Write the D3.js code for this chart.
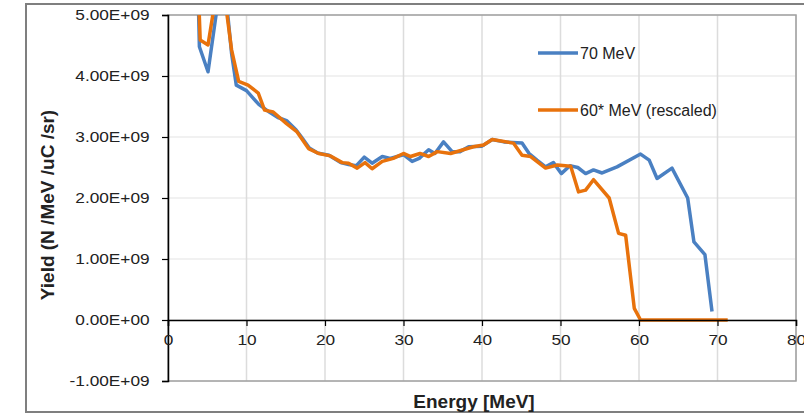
<!DOCTYPE html>
<html>
<head>
<meta charset="utf-8">
<script src="https://cdn.jsdelivr.net/npm/d3@7"></script>
<style>
  body { margin: 0; background: #fff; }
  text { font-family: "Liberation Sans", Arial, sans-serif; fill: #222; }
</style>
</head>
<body>
<div id="vis_container"></div>
<script>
// 70 MeV run, energy [MeV] and yield [1e9 N /MeV /uC /sr]
var energy70 = [3.85, 4.0, 5.1, 7.0, 8.1, 8.7, 10.0, 11.6, 13.0, 14.0, 15.1, 16.3, 17.0, 18.0, 19.0, 20.5,
  22.0, 23.0, 24.0, 25.0, 26.0, 27.3, 28.3, 30.0, 31.1, 32.0, 33.2, 34.0, 35.1, 36.2, 37.2, 38.3,
  40.0, 41.3, 42.8, 45.1, 46.0, 47.0, 48.1, 49.1, 50.1, 51.2, 52.2, 53.2, 54.2, 55.3, 57.2, 60.2,
  61.3, 62.3, 64.2, 66.2, 67.0, 68.4, 69.3];
var yield70 = [5.3, 4.48, 4.07, 5.8, 4.37, 3.85, 3.76, 3.53, 3.40, 3.32, 3.27, 3.12, 3.00, 2.82, 2.74, 2.70,
  2.58, 2.55, 2.53, 2.67, 2.57, 2.68, 2.65, 2.71, 2.60, 2.65, 2.79, 2.73, 2.92, 2.76, 2.76, 2.84,
  2.85, 2.96, 2.92, 2.90, 2.73, 2.62, 2.51, 2.58, 2.40, 2.53, 2.50, 2.40, 2.46, 2.41, 2.51, 2.72,
  2.62, 2.32, 2.49, 2.00, 1.28, 1.07, 0.14];

// 60* MeV run (rescaled)
var energy60 = [3.9, 4.1, 5.1, 6.7, 8.1, 9.0, 10.2, 11.5, 12.3, 13.4, 15.1, 16.4, 17.9, 19.2, 20.7,
  22.2, 23.0, 24.1, 25.1, 26.0, 27.3, 28.7, 30.0, 30.9, 32.1, 33.2, 34.3, 36.0, 38.9, 40.2, 41.3,
  44.0, 45.1, 46.2, 48.1, 49.6, 51.3, 52.3, 53.2, 54.2, 56.2, 57.4, 58.3, 59.4, 60.2, 71.3];
var yield60 = [5.3, 4.59, 4.51, 5.8, 4.43, 3.91, 3.85, 3.72, 3.44, 3.41, 3.22, 3.09, 2.81, 2.73, 2.69,
  2.58, 2.57, 2.49, 2.58, 2.48, 2.60, 2.65, 2.73, 2.68, 2.73, 2.68, 2.76, 2.73, 2.84, 2.87, 2.96,
  2.90, 2.70, 2.68, 2.49, 2.54, 2.52, 2.10, 2.13, 2.30, 2.00, 1.42, 1.39, 0.19, 0.00, 0.00];

var seriesNames = ["70 MeV", "60* MeV (rescaled)"];
var seriesColors = ["#4a80c2", "#e8720c"];
var xTicks = [0, 10, 20, 30, 40, 50, 60, 70, 80];
var yTicks = [-1, 0, 1, 2, 3, 4, 5];

var width = 804;
var height = 416;
var plotLeft = 168, plotRight = 796, plotTop = 15, plotBottom = 381;

var svg = d3.select("#vis_container")
    .append("svg")
    .attr("width", width)
    .attr("height", height);

// outer chart frame
svg.append("rect")
    .attr("x", 26).attr("y", 4)
    .attr("width", 800).attr("height", 408)
    .attr("fill", "none")
    .attr("stroke", "#7f7f7f")
    .attr("stroke-width", 2);

var x = d3.scaleLinear().domain([0, 80]).range([plotLeft, plotRight]);
var y = d3.scaleLinear().domain([-1, 5]).range([plotBottom, plotTop]);

// gridlines
svg.append("g").selectAll("line")
    .data(yTicks)
    .enter().append("line")
    .attr("x1", plotLeft).attr("x2", plotRight)
    .attr("y1", function (d) { return y(d); })
    .attr("y2", function (d) { return y(d); })
    .attr("stroke", "#ececec")
    .attr("stroke-width", 1.5);

svg.append("g").selectAll("line")
    .data(xTicks)
    .enter().append("line")
    .attr("x1", function (d) { return x(d); })
    .attr("x2", function (d) { return x(d); })
    .attr("y1", plotTop).attr("y2", plotBottom)
    .attr("stroke", "#dcdcdc")
    .attr("stroke-width", 1.5);

// plot area border
svg.append("rect")
    .attr("x", plotLeft).attr("y", plotTop)
    .attr("width", plotRight - plotLeft).attr("height", plotBottom - plotTop)
    .attr("fill", "none")
    .attr("stroke", "#a0a0a0")
    .attr("stroke-width", 1.5);

// lines, clipped to the plot area
svg.append("clipPath").attr("id", "plotclip")
    .append("rect")
    .attr("x", plotLeft).attr("y", plotTop)
    .attr("width", plotRight - plotLeft).attr("height", plotBottom - plotTop);

var lineFunc = d3.line()
    .x(function (d) { return x(d[0]); })
    .y(function (d) { return y(d[1]); });

var series = [d3.zip(energy70, yield70), d3.zip(energy60, yield60)];

svg.append("g")
    .attr("clip-path", "url(#plotclip)")
    .selectAll("path")
    .data(series)
    .enter().append("path")
    .attr("d", lineFunc)
    .attr("stroke", function (d, i) { return seriesColors[i]; })
    .attr("stroke-width", 3.5)
    .attr("stroke-linejoin", "round")
    .attr("fill", "none");

// Y axis
var yAxis = svg.append("g")
    .attr("transform", "translate(" + plotLeft + ",0)")
    .call(d3.axisLeft(y).tickValues(yTicks).tickSize(6).tickPadding(10)
        .tickFormat(function (d) { return (d < 0 ? "-" : "") + Math.abs(d).toFixed(2) + (d === 0 ? "E+00" : "E+09"); }));
yAxis.select(".domain").attr("stroke", "#000").attr("stroke-width", 1.5);
yAxis.selectAll(".tick line").attr("stroke", "#000").attr("stroke-width", 1.2);
yAxis.selectAll(".tick text")
    .style("font-size", "15px")
    .attr("fill", "#222")
    .attr("transform", "scale(1.15,1)");

// X axis at zero
var xAxis = svg.append("g")
    .attr("transform", "translate(0," + y(0) + ")")
    .call(d3.axisBottom(x).tickValues(xTicks).tickSize(6).tickPadding(8));
xAxis.select(".domain").attr("stroke", "#000").attr("stroke-width", 1.5);
xAxis.selectAll(".tick line").attr("stroke", "#000").attr("stroke-width", 1.2);
xAxis.selectAll(".tick text")
    .style("font-size", "15px")
    .attr("fill", "#222")
    .attr("transform", "scale(1.15,1)");

// axis titles
svg.append("text")
    .attr("x", (plotLeft + plotRight) / 2 - 8)
    .attr("y", 408)
    .style("text-anchor", "middle")
    .style("font-size", "19px")
    .style("font-weight", "bold")
    .text("Energy [MeV]");

svg.append("text")
    .attr("transform", "translate(54,205) rotate(-90)")
    .style("text-anchor", "middle")
    .style("font-size", "19px")
    .style("font-weight", "bold")
    .text("Yield (N /MeV /uC /sr)");

// legend
var legend = svg.append("g").selectAll("g")
    .data(seriesNames)
    .enter().append("g")
    .attr("transform", function (d, i) { return "translate(538," + (53 + i * 57) + ")"; });

legend.append("line")
    .attr("x1", 0).attr("x2", 40)
    .attr("stroke", function (d, i) { return seriesColors[i]; })
    .attr("stroke-width", 3.5);

legend.append("text")
    .attr("x", 42)
    .attr("dy", "0.35em")
    .style("font-size", "16px")
    .text(function (d) { return d; });
</script>
</body>
</html>
